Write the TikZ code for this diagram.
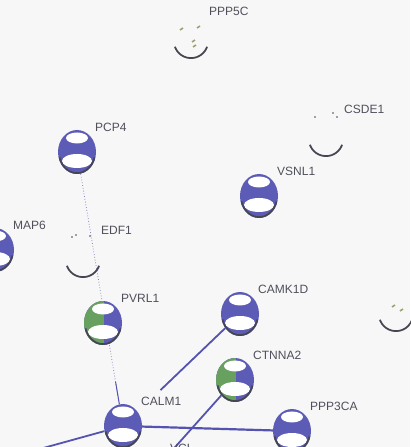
\documentclass[tikz,border=0pt]{standalone}
\usepackage{fontspec}
\setmainfont{Liberation Sans}
\usetikzlibrary{shapes, positioning, calc, backgrounds}

\definecolor{paper}{RGB}{247,247,247}
\definecolor{nodeblue}{RGB}{92,92,182}
\definecolor{nodegreen}{RGB}{104,160,96}
\definecolor{rimgrey}{RGB}{70,70,82}
\definecolor{textgrey}{RGB}{80,80,92}
\definecolor{linkblue}{RGB}{84,84,176}
\definecolor{speck}{RGB}{160,160,112}

\pgfdeclarelayer{paper}
\pgfsetlayers{paper,background,main}

\newcommand{\shine}{%
  \fill[white] ([yshift=-8pt]path picture bounding box.north) ellipse (11pt and 5.5pt);
  \fill[white] ([yshift=13pt]path picture bounding box.south) ellipse (15pt and 7pt);
  \draw[rimgrey, line width=3.5pt] (path picture bounding box.center) ++(195:19pt and 22pt)
    arc[start angle=195, end angle=345, x radius=19pt, y radius=22pt];
}

\begin{document}
\begin{tikzpicture}[x=1pt, y=1pt,
sphere/.style={ellipse, inner sep=0pt, minimum width=38pt, minimum height=44pt, fill=nodeblue,
  path picture={\shine}},
mixsphere/.style={sphere, path picture={
  \fill[nodegreen] (path picture bounding box.south west) rectangle ([xshift=1pt]path picture bounding box.north);
  \shine}},
ghost/.style={circle, inner sep=0pt, minimum size=36pt, path picture={
  \draw[rimgrey, line width=3.5pt] (path picture bounding box.center) ++(200:18pt)
    arc[start angle=200, end angle=340, radius=18pt];}},
gene/.style={anchor=west, inner sep=0pt, text=textgrey, font=\fontsize{12}{14}\selectfont},
link/.style={draw=linkblue, line width=2.2pt},
faint/.style={draw=linkblue!70, line width=0.8pt, dotted}]

\useasboundingbox (0,0) rectangle (410,447);
\begin{pgfonlayer}{paper}
\fill[paper] (0,0) rectangle (410,447);
\end{pgfonlayer}

\node[ghost]      (PPP5C)  at (191,406) {};
\node[ghost]      (CSDE1)  at (326,308) {};
\node[ghost]      (EDF1)   at (83,187)  {};
\node[ghost]      (R)      at (396,133) {};
\node[sphere]     (PCP4)   at (77,295)  {};
\node[sphere]     (VSNL1)  at (259,251) {};
\node[sphere]     (MAP6)   at (-5,197)  {};
\node[mixsphere]  (PVRL1)  at (103,124) {};
\node[sphere]     (CAMK1D) at (240,133) {};
\node[mixsphere]  (CTNNA2) at (235,67)  {};
\node[sphere]     (CALM1)  at (123,21)  {};
\node[sphere]     (PPP3CA) at (292,16)  {};
\node[sphere]     (VCL)    at (152,-26) {};
\coordinate (W) at (-40,-24);

\node[gene] (PPP5Ct)  at ([shift={(18,30)}]PPP5C.center)  {PPP5C};
\node[gene] (CSDE1t)  at ([shift={(18,30)}]CSDE1.center)  {CSDE1};
\node[gene] (EDF1t)   at ([shift={(18,30)}]EDF1.center)   {EDF1};
\node[gene] (PCP4t)   at ([shift={(18,25)}]PCP4.center)   {PCP4};
\node[gene] (VSNL1t)  at ([shift={(18,25)}]VSNL1.center)  {VSNL1};
\node[gene] (MAP6t)   at ([shift={(18,25)}]MAP6.center)   {MAP6};
\node[gene] (PVRL1t)  at ([shift={(18,25)}]PVRL1.center)  {PVRL1};
\node[gene] (CAMK1Dt) at ([shift={(18,25)}]CAMK1D.center) {CAMK1D};
\node[gene] (CTNNA2t) at ([shift={(18,25)}]CTNNA2.center) {CTNNA2};
\node[gene] (CALM1t)  at ([shift={(18,25)}]CALM1.center)  {CALM1};
\node[gene] (PPP3CAt) at ([shift={(18,25)}]PPP3CA.center) {PPP3CA};
\node[gene] (VCLt)    at ([shift={(18,25)}]VCL.center)    {VCL};

\foreach \p in {(180,417),(197,419),(192,405),(193,400),(392,140),(400,136)}
  \draw[speck, line width=1.6pt] \p -- ++(3,2);
\foreach \p in {(315,330),(333,334),(337,330),(72,210),(76,212),(90,211)}
  \fill[rimgrey] \p circle (0.8pt);

\begin{scope}[on background layer]
\path[faint] (PCP4.center) -- (CALM1);
\path[link, line width=1pt] ($(PCP4)!0.84!(CALM1)$) -- (CALM1);
\path[link, line width=1.8pt] (CAMK1D) -- ($(CAMK1D)!0.68!(CALM1)$);
\path[link, line width=1.8pt] (CTNNA2) -- (VCL);
\path[link] (CALM1) -- (PPP3CA);
\path[link, line width=1.8pt] (CALM1) -- (W);
\end{scope}

\end{tikzpicture}
\end{document}
